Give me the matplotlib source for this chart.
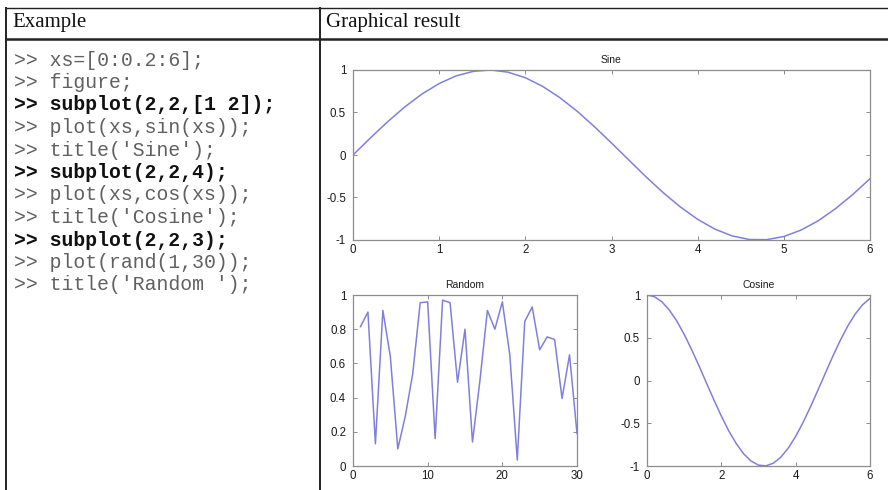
import matplotlib
matplotlib.use('Agg')
import matplotlib.pyplot as plt
from matplotlib.lines import Line2D

W, H = 888, 490

# data
xs = [0.0, 0.2, 0.4, 0.6, 0.8, 1.0, 1.2, 1.4, 1.6, 1.8, 2.0, 2.2, 2.4, 2.6, 2.8, 3.0,
      3.2, 3.4, 3.6, 3.8, 4.0, 4.2, 4.4, 4.6, 4.8, 5.0, 5.2, 5.4, 5.6, 5.8, 6.0]
sine_vals = [0.0, 0.199, 0.389, 0.565, 0.717, 0.841, 0.932, 0.985, 1.0, 0.974, 0.909,
             0.808, 0.675, 0.516, 0.335, 0.141, -0.058, -0.256, -0.443, -0.612, -0.757,
             -0.872, -0.952, -0.994, -0.996, -0.959, -0.883, -0.773, -0.631, -0.465, -0.279]
cosine_vals = [1.0, 0.980, 0.921, 0.825, 0.697, 0.540, 0.362, 0.170, -0.029, -0.227,
               -0.416, -0.589, -0.737, -0.857, -0.942, -0.990, -0.998, -0.967, -0.897,
               -0.791, -0.654, -0.490, -0.307, -0.112, 0.087, 0.284, 0.469, 0.635, 0.776,
               0.886, 0.960]
rand_x = list(range(1, 31))
rand_vals = [0.815, 0.90, 0.13, 0.91, 0.64, 0.10, 0.29, 0.54, 0.955, 0.96,
             0.16, 0.97, 0.955, 0.49, 0.80, 0.14, 0.50, 0.91, 0.80, 0.96,
             0.65, 0.035, 0.845, 0.93, 0.68, 0.755, 0.74, 0.395, 0.65, 0.19]

code_lines = [
    ('>> xs=[0:0.2:6];', False),
    ('>> figure;', False),
    ('>> subplot(2,2,[1 2]);', True),
    ('>> plot(xs,sin(xs));', False),
    (">> title('Sine');", False),
    ('>> subplot(2,2,4);', True),
    ('>> plot(xs,cos(xs));', False),
    (">> title('Cosine');", False),
    ('>> subplot(2,2,3);', True),
    ('>> plot(rand(1,30));', False),
    (">> title('Random ');", False),
]

LINE_C = '#8080dc'
AX_C = '#8c8c8c'


def fx(x):
    return x / W


def fy(y):
    return 1 - y / H


def add_ax(fig, left, top, right, bottom):
    return fig.add_axes([fx(left), fy(bottom), (right - left) / W, (bottom - top) / H])


def style(ax, xticks, yticks, xlabels, ylabels, title):
    ax.set_xticks(xticks)
    ax.set_yticks(yticks)
    ax.set_xticklabels(xlabels)
    ax.set_yticklabels(ylabels)
    ax.tick_params(direction='in', length=3, width=0.7, color=AX_C,
                   top=True, right=True, labelsize=8.3, labelcolor='#1a1a1a')
    ax.tick_params(axis='y', pad=5)
    ax.tick_params(axis='x', pad=3)
    for s in ax.spines.values():
        s.set_color(AX_C)
        s.set_linewidth(0.9)
    ax.set_title(title, fontsize=7.5, color='#1a1a1a', pad=5)


fig = plt.figure(figsize=(W / 100, H / 100), dpi=100)
plt.rcParams['font.family'] = ['Liberation Sans', 'DejaVu Sans']

# table frame
fig.add_artist(Line2D([fx(6), 1], [fy(8), fy(8)], color='#222222', lw=1.0))
fig.add_artist(Line2D([fx(6), 1], [fy(39), fy(39)], color='#222222', lw=1.8))
fig.add_artist(Line2D([fx(6), fx(6)], [fy(8), 0], color='#222222', lw=1.4))
fig.add_artist(Line2D([fx(320), fx(320)], [fy(8), 0], color='#222222', lw=1.4))

fig.text(fx(12), fy(22), 'Example', fontsize=15, family='Liberation Serif',
         va='center', ha='left', color='#111111')
fig.text(fx(326), fy(22), 'Graphical result', fontsize=15, family='Liberation Serif',
         va='center', ha='left', color='#111111')

for i, (txt, bold) in enumerate(code_lines):
    fig.text(fx(14), fy(60 + i * 22.5), txt, fontsize=14.2, family='Liberation Mono',
             fontweight='bold' if bold else 'normal',
             color='#111111' if bold else '#606060', va='center', ha='left')

# Sine
ax1 = add_ax(fig, 353, 70, 870, 240)
ax1.plot(xs, sine_vals, color=LINE_C, lw=1.1)
ax1.set_xlim(0, 6)
ax1.set_ylim(-1, 1)
style(ax1, [0, 1, 2, 3, 4, 5, 6], [-1, -0.5, 0, 0.5, 1],
      ['0', '1', '2', '3', '4', '5', '6'], ['-1', '-0.5', '0', '0.5', '1'], 'Sine')

# Random
ax2 = add_ax(fig, 353, 295, 577, 466)
ax2.plot(rand_x, rand_vals, color=LINE_C, lw=1.1)
ax2.set_xlim(0, 30)
ax2.set_ylim(0, 1)
style(ax2, [0, 10, 20, 30], [0, 0.2, 0.4, 0.6, 0.8, 1],
      ['0', '10', '20', '30'], ['0', '0.2', '0.4', '0.6', '0.8', '1'], 'Random')

# Cosine
ax3 = add_ax(fig, 647, 295, 870, 466)
ax3.plot(xs, cosine_vals, color=LINE_C, lw=1.1)
ax3.set_xlim(0, 6)
ax3.set_ylim(-1, 1)
style(ax3, [0, 2, 4, 6], [-1, -0.5, 0, 0.5, 1],
      ['0', '2', '4', '6'], ['-1', '-0.5', '0', '0.5', '1'], 'Cosine')

fig.savefig('out.png', dpi=100)
